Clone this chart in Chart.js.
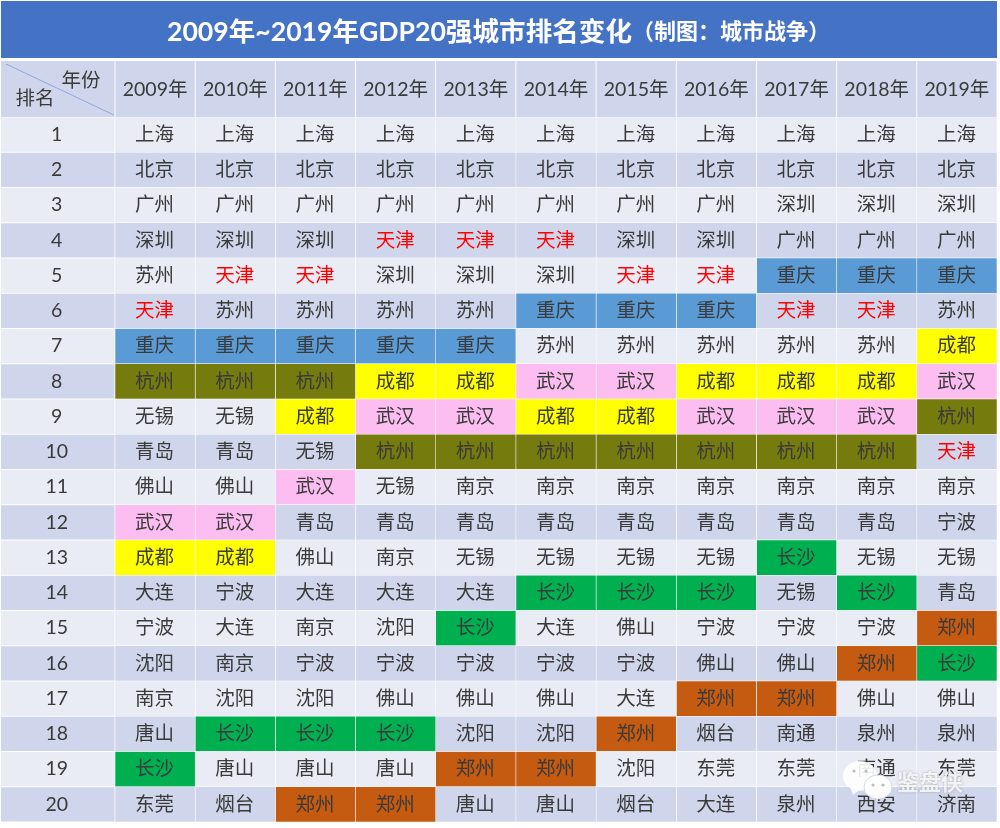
<!DOCTYPE html>
<html>
<head>
<meta charset="utf-8">
<script src="https://cdn.jsdelivr.net/npm/chart.js@4/dist/chart.umd.min.js"></script>
<style>
html, body { margin: 0; padding: 0; background: #fff; }
canvas { display: block; }
</style>
</head>
<body>
<canvas id="rank-chart" width="1000" height="828"></canvas>
<script>
const fontFamily = 'Lato, "Noto Sans CJK SC", sans-serif';
const ranks = ["1","2","3","4","5","6","7","8","9","10","11","12","13","14","15","16","17","18","19","20"];
const years = ["2009年","2010年","2011年","2012年","2013年","2014年","2015年","2016年","2017年","2018年","2019年"];

// cities by rank, one list per year
const city2009 = ["上海","北京","广州","深圳","苏州","天津","重庆","杭州","无锡","青岛","佛山","武汉","成都","大连","宁波","沈阳","南京","唐山","长沙","东莞"];
const city2010 = ["上海","北京","广州","深圳","天津","苏州","重庆","杭州","无锡","青岛","佛山","武汉","成都","宁波","大连","南京","沈阳","长沙","唐山","烟台"];
const city2011 = ["上海","北京","广州","深圳","天津","苏州","重庆","杭州","成都","无锡","武汉","青岛","佛山","大连","南京","宁波","沈阳","长沙","唐山","郑州"];
const city2012 = ["上海","北京","广州","天津","深圳","苏州","重庆","成都","武汉","杭州","无锡","青岛","南京","大连","沈阳","宁波","佛山","长沙","唐山","郑州"];
const city2013 = ["上海","北京","广州","天津","深圳","苏州","重庆","成都","武汉","杭州","南京","青岛","无锡","大连","长沙","宁波","佛山","沈阳","郑州","唐山"];
const city2014 = ["上海","北京","广州","天津","深圳","重庆","苏州","武汉","成都","杭州","南京","青岛","无锡","长沙","大连","宁波","佛山","沈阳","郑州","唐山"];
const city2015 = ["上海","北京","广州","深圳","天津","重庆","苏州","武汉","成都","杭州","南京","青岛","无锡","长沙","佛山","宁波","大连","郑州","沈阳","烟台"];
const city2016 = ["上海","北京","广州","深圳","天津","重庆","苏州","成都","武汉","杭州","南京","青岛","无锡","长沙","宁波","佛山","郑州","烟台","东莞","大连"];
const city2017 = ["上海","北京","深圳","广州","重庆","天津","苏州","成都","武汉","杭州","南京","青岛","长沙","无锡","宁波","佛山","郑州","南通","东莞","泉州"];
const city2018 = ["上海","北京","深圳","广州","重庆","天津","苏州","成都","武汉","杭州","南京","青岛","无锡","长沙","宁波","郑州","佛山","泉州","南通","西安"];
const city2019 = ["上海","北京","深圳","广州","重庆","苏州","成都","武汉","杭州","天津","南京","宁波","无锡","青岛","郑州","长沙","佛山","泉州","东莞","济南"];
const cityColumns = [city2009,city2010,city2011,city2012,city2013,city2014,city2015,city2016,city2017,city2018,city2019];

const highlightCities = ["重庆","杭州","成都","武汉","长沙","郑州"];
const highlightColors = ["#5b9bd5","#767b0d","#ffff00","#fcbdf1","#00b050","#c55a11"];
const rowOdd = "#e9ebf5";
const rowEven = "#cfd5ea";
const textColor = "#3a3a3a";

function cellColor(col, rowIdx) {
    const h = highlightCities.indexOf(col[rowIdx]);
    if (h >= 0) return highlightColors[h];
    return rowIdx % 2 === 0 ? rowOdd : rowEven;
}

// axes reserve room for half a label, the table has to reach the edge
function noOverhang(s) {
    s.paddingLeft = s.paddingRight = s.paddingTop = s.paddingBottom = 0;
}

const tablePlugin = {
    id: "tablePlugin",
    beforeDraw(chart) {
        const c = chart.ctx, y = chart.scales.y, area = chart.chartArea;
        // title band
        c.fillStyle = "#4472c4";
        c.fillRect(1, 1, 996, 57);
        // header row + rank column
        c.fillStyle = rowEven;
        c.fillRect(1, 61, 996, area.top - 61);
        c.strokeStyle = "#ffffff";
        c.lineWidth = 1;
        for (let i = 0; i <= years.length; i++) {
            const px = area.left + (area.right - area.left) * i / years.length;
            c.beginPath(); c.moveTo(px, 61); c.lineTo(px, area.top); c.stroke();
        }
        ranks.forEach((r, i) => {
            const cy = y.getPixelForTick(i), h = (area.bottom - area.top) / ranks.length;
            c.fillStyle = i % 2 === 0 ? rowOdd : rowEven;
            c.fillRect(1, cy - h / 2 + 0.5, area.left - 1.5, h - 1);
        });
    },
    afterDatasetsDraw(chart) {
        const c = chart.ctx;
        c.save();
        c.textAlign = "center";
        c.textBaseline = "middle";
        // title, the bracket part is smaller
        const main = "2009年~2019年GDP20强城市排名变化";
        const sub = "（制图：城市战争）";
        c.textAlign = "left";
        c.fillStyle = "#ffffff";
        c.font = "bold 26.6px " + fontFamily;
        c.fillText(main, 167, 32);
        const mainW = c.measureText(main).width;
        c.font = "bold 22px " + fontFamily;
        c.fillText(sub, 167 + mainW, 32);
        // corner cell
        c.strokeStyle = "#8faadc";
        c.lineWidth = 1;
        c.beginPath(); c.moveTo(6, 64); c.lineTo(114, 115); c.stroke();
        c.textAlign = "center";
        c.fillStyle = textColor;
        c.font = "19.5px " + fontFamily;
        c.fillText("年份", 81, 81);
        c.fillText("排名", 35, 99);
        // city names
        chart.data.datasets.forEach((ds, d) => {
            chart.getDatasetMeta(d).data.forEach((bar, i) => {
                const name = cityColumns[d][i];
                const midX = (bar.x + bar.base) / 2;
                c.fillStyle = name === "天津" ? "#ff0000" : textColor;
                c.fillText(name, midX - 0.5, bar.y);
            });
        });
        // watermark
        c.fillStyle = "rgba(255,255,255,0.9)";
        c.beginPath(); c.ellipse(860, 776, 17, 15, 0, 0, Math.PI * 2); c.fill();
        c.beginPath(); c.moveTo(850, 786); c.lineTo(853, 795); c.lineTo(862, 788); c.fill();
        c.strokeStyle = "#d8dbe8";
        c.fillStyle = "rgba(255,255,255,0.95)";
        c.beginPath(); c.ellipse(878, 787, 14, 12, 0, 0, Math.PI * 2); c.fill(); c.stroke();
        c.fillStyle = "#bbbbbb";
        [[873, 785], [883, 785], [854, 771], [866, 771]].forEach(p => {
            c.beginPath(); c.arc(p[0], p[1], 1.6, 0, Math.PI * 2); c.fill();
        });
        c.font = "bold 22px " + fontFamily;
        c.textAlign = "left";
        c.shadowColor = "rgba(90,90,90,0.6)";
        c.shadowBlur = 2;
        c.fillStyle = "rgba(255,255,255,0.85)";
        c.fillText("鉴盘侠", 897, 783);
        c.restore();
    }
};

new Chart(document.getElementById("rank-chart").getContext("2d"), {
    type: "bar",
    data: {
        labels: ranks,
        datasets: cityColumns.map((col, d) => ({
            label: years[d],
            data: col.map(() => 1),
            backgroundColor: col.map((name, i) => cellColor(col, i)),
            borderColor: "#ffffff",
            borderWidth: 0.6,
            borderSkipped: false,
            barPercentage: 1,
            categoryPercentage: 1
        }))
    },
    plugins: [tablePlugin],
    options: {
        indexAxis: "y",
        responsive: false,
        animation: false,
        devicePixelRatio: 1,
        layout: { padding: { top: 58, right: 3, bottom: 6, left: 0 } },
        plugins: { legend: { display: false }, tooltip: { enabled: false }, title: { display: false } },
        scales: {
            x: { type: "linear", stacked: true, min: 0, max: years.length, display: false },
            xTop: {
                type: "category",
                axis: "x",
                position: "top",
                labels: years,
                offset: true,
                grid: { display: false, drawTicks: false },
                border: { display: false },
                ticks: { autoSkip: false, maxRotation: 0, padding: 16, color: textColor, font: { family: fontFamily, size: 19.5 } },
                afterFit: s => { s.height = 59; noOverhang(s); }
            },
            y: {
                stacked: true,
                grid: { display: false, drawTicks: false },
                border: { display: false },
                ticks: { autoSkip: false, crossAlign: "center", padding: 47, color: textColor, font: { family: fontFamily, size: 19.5 } },
                afterFit: s => { s.width = 115; noOverhang(s); }
            }
        }
    }
});
</script>
</body>
</html>
